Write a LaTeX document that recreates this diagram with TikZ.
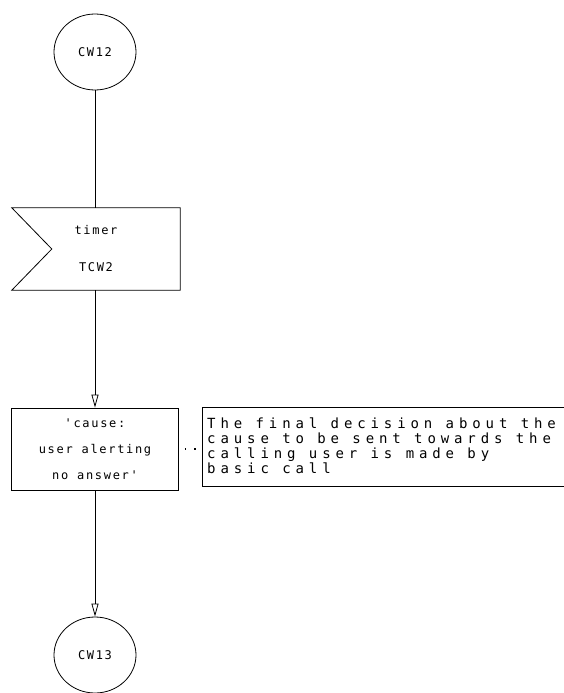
\documentclass[tikz,border=0pt]{standalone}
\usepackage{fontspec}
\usetikzlibrary{arrows.meta,shapes.geometric}
\newfontfamily\plotfont[LetterSpace=14]{DejaVu Sans Mono}
\newfontfamily\notefont[LetterSpace=35]{DejaVu Sans Mono}
\tikzset{
  ln/.style={line width=0.8pt, line join=miter},
  conn/.style={ln, -{Triangle[open, width=7pt, length=13pt]}},
  connector/.style={ln, ellipse, draw, minimum width=82pt, minimum height=76pt, inner sep=0pt,
    font=\plotfont\fontsize{12}{14}\selectfont},
  taskbox/.style={ln, rectangle, draw, minimum width=167pt, minimum height=82pt, inner sep=0pt,
    align=center, font=\plotfont\fontsize{12}{26}\selectfont},
  timerbox/.style={rectangle, minimum width=168pt, minimum height=82pt, inner sep=0pt,
    align=center, font=\plotfont\fontsize{12}{37}\selectfont},
  notetext/.style={inner sep=0pt, align=left, anchor=north west,
    font=\notefont\fontsize{14}{14.8}\selectfont},
}
\begin{document}
\begin{tikzpicture}[x=1pt, y=-1pt]
  \useasboundingbox (0,0) rectangle (564,693);

  % entry connector
  \node[connector] (cw12) at (95,52) {CW12};

  % timer input
  \node[timerbox] (timer) at (96,249) {timer\\TCW2};
  \draw[ln] (timer.north west) -- (timer.north east) -- (timer.south east)
    -- (timer.south west) -- ([xshift=40pt]timer.west) -- cycle;

  % task
  \node[taskbox] (task) at (95,449) {'cause:\\user alerting\\no answer'};

  % comment on the task
  \coordinate (ntl) at (202,407);
  \coordinate (nbl) at (202,486);
  \draw[ln] (564,407) -- (ntl) -- (nbl) -- (564,486);
  \node[notetext] (note) at (207,418) {The final decision about the\\cause to be sent towards the\\calling user is made by\\basic call};
  \coordinate (dotend) at ([xshift=-4pt]task.east -| ntl);
  \draw[line width=1.5pt, dash pattern=on 1.5pt off 8pt] ([xshift=6pt]task.east) -- (dotend);

  % exit connector
  \node[connector] (cw13) at (95,655) {CW13};

  % flow lines
  \draw[ln] (cw12.south) -- (cw12.south |- timer.north);
  \draw[conn] (timer.south -| task.north) -- (task.north);
  \draw[conn] (task.south) -- (cw13.north);
\end{tikzpicture}
\end{document}
